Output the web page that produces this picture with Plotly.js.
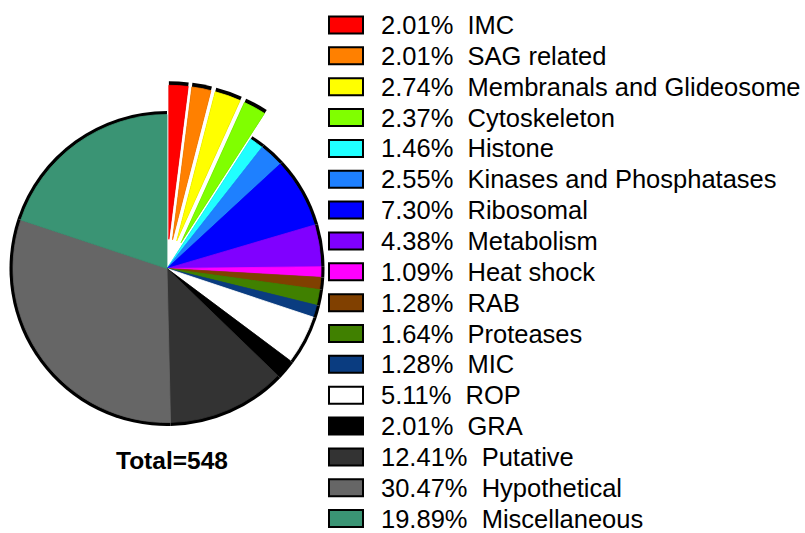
<!DOCTYPE html>
<html><head><meta charset="utf-8">
<script src="https://cdn.plot.ly/plotly-3.0.1.min.js"></script>
<style>
html,body{margin:0;padding:0;overflow:hidden;background:#fff;width:805px;height:533px;}
#chart{position:absolute;left:-30px;top:0;width:835px;height:533px;}
</style>
</head><body><div id="chart"></div>
<script>
// ---- data ----
const categories = ['IMC','SAG related','Membranals and Glideosome','Cytoskeleton','Histone',
  'Kinases and Phosphatases','Ribosomal','Metabolism','Heat shock','RAB','Proteases','MIC',
  'ROP','GRA','Putative','Hypothetical','Miscellaneous'];
const counts = [11,11,15,13,8,14,40,24,6,7,9,7,28,11,68,167,109];
const percentLabels = ['2.01%','2.01%','2.74%','2.37%','1.46%','2.55%','7.30%','4.38%','1.09%',
  '1.28%','1.64%','1.28%','5.11%','2.01%','12.41%','30.47%','19.89%'];
const colors = ['#FF0000','#FF8000','#FFFF00','#80FF00','#20FFFF','#1E80FF','#0000FF','#8000FF',
  '#FF00FF','#804000','#408000','#0A3C80','#FFFFFF','#000000','#333333','#666666','#3A9474'];
const pulledCategories = ['IMC','SAG related','Membranals and Glideosome','Cytoskeleton'];
const totalLabel = 'Total=548';

// ---- geometry (pixels) ----
const OFF = 30, W = 835, H = 533;
const cx = 167, cy = 268.5, rFill = 154, rEdge = 157.5, pullFrac = 0.19;
function X(px){ return (px + OFF) / W; }
function Y(py){ return 1 - py / H; }
function domainFor(r){
  const half = r * (1 + pullFrac);
  return {x:[X(cx - half), X(cx + half)], y:[Y(cy + half), Y(cy - half)]};
}
const pulls = categories.map(c => pulledCategories.includes(c) ? pullFrac : 0);

const base = {
  type:'pie', values: counts, labels: categories, sort:false, direction:'clockwise',
  rotation:0, pull: pulls, textinfo:'none', hoverinfo:'skip', showlegend:false
};
const back = Object.assign({}, base, {
  marker:{colors: categories.map(() => '#000000'), line:{width:0}},
  domain: domainFor(rEdge)
});
const front = Object.assign({}, base, {
  marker:{colors: colors, line:{color: colors, width:0.8}},
  domain: domainFor(rFill)
});

const FONT = 'Liberation Sans, Arial, sans-serif';
const shapes = [], annotations = [];
categories.forEach((c, i) => {
  const rowY = 25 + 30.85 * i;
  shapes.push({type:'rect', xref:'paper', yref:'paper',
    x0: X(329), x1: X(363), y0: Y(rowY - 8.5), y1: Y(rowY + 8.5),
    fillcolor: colors[i], line:{color:'#000000', width:2}});
  annotations.push({xref:'paper', yref:'paper', x: X(380), y: Y(rowY),
    xanchor:'left', yanchor:'middle', showarrow:false, borderpad:0,
    text: percentLabels[i] + '\u00a0\u00a0' + c,
    font:{family: FONT, size:25.5, color:'#000000'}});
});
annotations.push({xref:'paper', yref:'paper', x: X(172), y: Y(460),
  xanchor:'center', yanchor:'middle', showarrow:false,
  text:'<b>' + totalLabel + '</b>', font:{family: FONT, size:24.5, color:'#000000'}});

const layout = {
  width: W, height: H, margin:{l:0,r:0,t:0,b:0},
  paper_bgcolor:'#ffffff', plot_bgcolor:'#ffffff',
  showlegend:false, shapes: shapes, annotations: annotations
};
Plotly.newPlot('chart', [back, front], layout, {staticPlot:true, displayModeBar:false});
</script>
</body></html>
